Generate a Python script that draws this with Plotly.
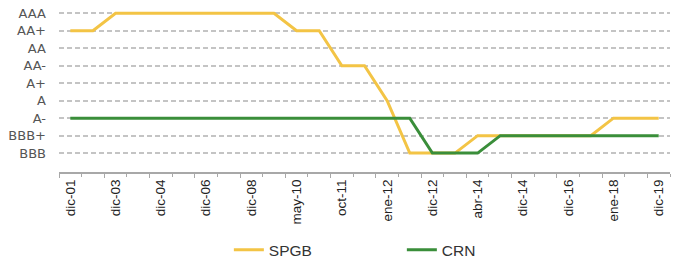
import plotly.graph_objects as go

ratings = ["BBB", "BBB+", "A-", "A", "A+", "AA-", "AA", "AA+", "AAA"]

tick_labels = ["dic-01", "dic-03", "dic-04", "dic-06", "dic-08", "may-10", "oct-11",
               "ene-12", "dic-12", "abr-14", "dic-14", "dic-16", "ene-18", "dic-19"]

spgb = ["AA+", "AA+", "AAA", "AAA", "AAA", "AAA", "AAA", "AAA", "AAA", "AAA",
        "AA+", "AA+", "AA-", "AA-", "A", "BBB", "BBB", "BBB", "BBB+", "BBB+",
        "BBB+", "BBB+", "BBB+", "BBB+", "A-", "A-", "A-"]

crn = ["A-", "A-", "A-", "A-", "A-", "A-", "A-", "A-", "A-", "A-",
       "A-", "A-", "A-", "A-", "A-", "A-", "BBB", "BBB", "BBB", "BBB+",
       "BBB+", "BBB+", "BBB+", "BBB+", "BBB+", "BBB+", "BBB+"]

n = len(spgb)
xs = list(range(n))
label_pos = xs[::2]

fig = go.Figure()
fig.add_trace(go.Scatter(x=xs, y=spgb, mode="lines", name="SPGB",
                         line=dict(color="#F3C445", width=3)))
fig.add_trace(go.Scatter(x=xs, y=crn, mode="lines", name="CRN",
                         line=dict(color="#3A8E3A", width=3)))
# invisible trace to carry the long-tick overlay axis
fig.add_trace(go.Scatter(x=[xs[0], xs[-1]], y=[ratings[0], ratings[0]], xaxis="x2",
                         mode="lines", line=dict(width=0), showlegend=False,
                         hoverinfo="skip", opacity=0))

fig.update_layout(
    width=673, height=263,
    margin=dict(l=59, r=3, t=1, b=91, autoexpand=False),
    paper_bgcolor="white", plot_bgcolor="white",
    font=dict(family="Liberation Sans, Arial, sans-serif", color="#333"),
    xaxis=dict(
        range=[-0.5, n - 0.5], automargin=False,
        tickmode="array", tickvals=label_pos, ticktext=tick_labels,
        tickangle=-90, tickfont=dict(size=13.5, color="#222"),
        ticks="", showgrid=False, zeroline=False,
        showline=True, linecolor="#a8a8a8", linewidth=2,
        minor=dict(ticks="outside", ticklen=3, tickcolor="#a8a8a8", tickwidth=1,
                   tickmode="array", tickvals=[i + 0.5 for i in range(-1, n)]),
    ),
    xaxis2=dict(
        overlaying="x", matches="x", side="bottom", anchor="y", automargin=False,
        tickmode="array", tickvals=[i - 0.5 for i in range(0, n + 1, 2)],
        ticks="outside", ticklen=5, tickcolor="#a8a8a8", tickwidth=1,
        showticklabels=False, showgrid=False, zeroline=False, showline=False,
    ),
    yaxis=dict(
        type="category", categoryorder="array", categoryarray=ratings,
        range=[-1.08, 8.7], automargin=False,
        tickfont=dict(family="DejaVu Sans, sans-serif", size=13, color="#555"),
        showgrid=True, gridcolor="#c4c4c4", gridwidth=2, griddash="5px,3px",
        ticks="", ticklabelstandoff=12, zeroline=False, showline=False,
    ),
    legend=dict(orientation="h", x=0.278, xanchor="left",
                yref="container", y=0.049, yanchor="middle",
                font=dict(size=15.5, color="#333"), entrywidth=128,
                bgcolor="rgba(0,0,0,0)"),
    showlegend=True,
)

fig.write_html("out.html", config={"displayModeBar": False},
               post_script="document.body.style.margin='0';")
